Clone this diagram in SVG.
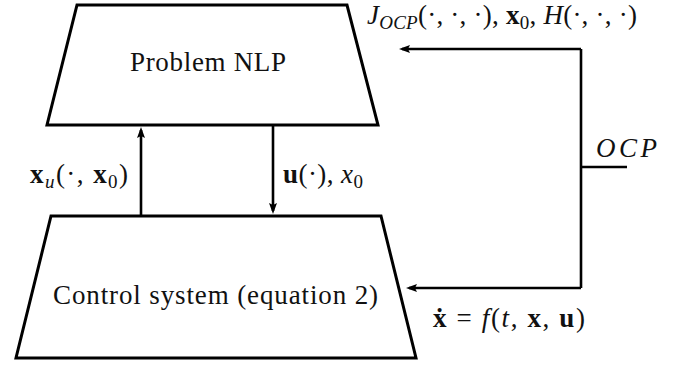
<svg xmlns="http://www.w3.org/2000/svg" width="681" height="367" viewBox="0 0 681 367">
<style>
.shape{fill:#fff;stroke:#000;stroke-width:3;stroke-linejoin:miter}
.con{fill:none;stroke:#000;stroke-width:2.6}
.t{font-family:'Liberation Serif','Times New Roman',serif;fill:#111;font-size:27px}
.i{font-style:italic}
.b{font-weight:bold}
.s{font-size:19px}
</style>
<defs>
<marker id="ah" markerUnits="userSpaceOnUse" markerWidth="12" markerHeight="10" viewBox="0 0 12 10" refX="8" refY="5" orient="auto">
<path d="M0,1 L11,5 L0,9 L2,5 z" fill="#000"/>
</marker>
</defs>
<rect width="681" height="367" fill="#fff"/>
<g id="nlp">
<path class="shape" d="M77,5 L347,5 L378,125 L47,125 Z"/>
<text class="t" font-family="Liberation Serif, serif" x="130" y="71" textLength="156" lengthAdjust="spacing">Problem NLP</text>
</g>
<g id="control">
<path class="shape" d="M51,216 L381,216 L416,358 L16,358 Z"/>
<text class="t" font-family="Liberation Serif, serif" x="53" y="304" textLength="325" lengthAdjust="spacing">Control system (equation 2)</text>
</g>
<g id="connectors">
<path class="con" d="M141,216 L141,130" marker-end="url(#ah)"/>
<path class="con" d="M273,125 L273,211" marker-end="url(#ah)"/>
<path class="con" d="M581,49 L581,288"/>
<path class="con" d="M581,49 L402,49" marker-end="url(#ah)"/>
<path class="con" d="M581,288 L409,288" marker-end="url(#ah)"/>
<path class="con" d="M581,167 L627,167"/>
</g>
<g id="labels">
<text class="t" x="367" y="24" textLength="270" lengthAdjust="spacing"><tspan class="i">J</tspan><tspan class="i s" dy="5">OCP</tspan><tspan dy="-5">(·, ·, ·), </tspan><tspan class="b">x</tspan><tspan class="s" dy="5">0</tspan><tspan dy="-5">, </tspan><tspan class="i">H</tspan><tspan>(·, ·, ·)</tspan></text>
<text class="t" x="30" y="183" textLength="98" lengthAdjust="spacing"><tspan class="b">x</tspan><tspan class="i s" dy="5">u</tspan><tspan dy="-5">(·, </tspan><tspan class="b">x</tspan><tspan class="s" dy="5">0</tspan><tspan dy="-5">)</tspan></text>
<text class="t" x="283" y="183" textLength="80" lengthAdjust="spacing"><tspan class="b">u</tspan><tspan>(·), </tspan><tspan class="i">x</tspan><tspan class="s" dy="5">0</tspan></text>
<text class="t i" x="596" y="157" textLength="61" lengthAdjust="spacing">OCP</text>
<text class="t" x="433" y="327" textLength="152" lengthAdjust="spacing"><tspan class="b">ẋ</tspan><tspan> = </tspan><tspan class="i">f</tspan><tspan>(</tspan><tspan class="i">t</tspan><tspan>, </tspan><tspan class="b">x</tspan><tspan>, </tspan><tspan class="b">u</tspan><tspan>)</tspan></text>
</g>
</svg>
